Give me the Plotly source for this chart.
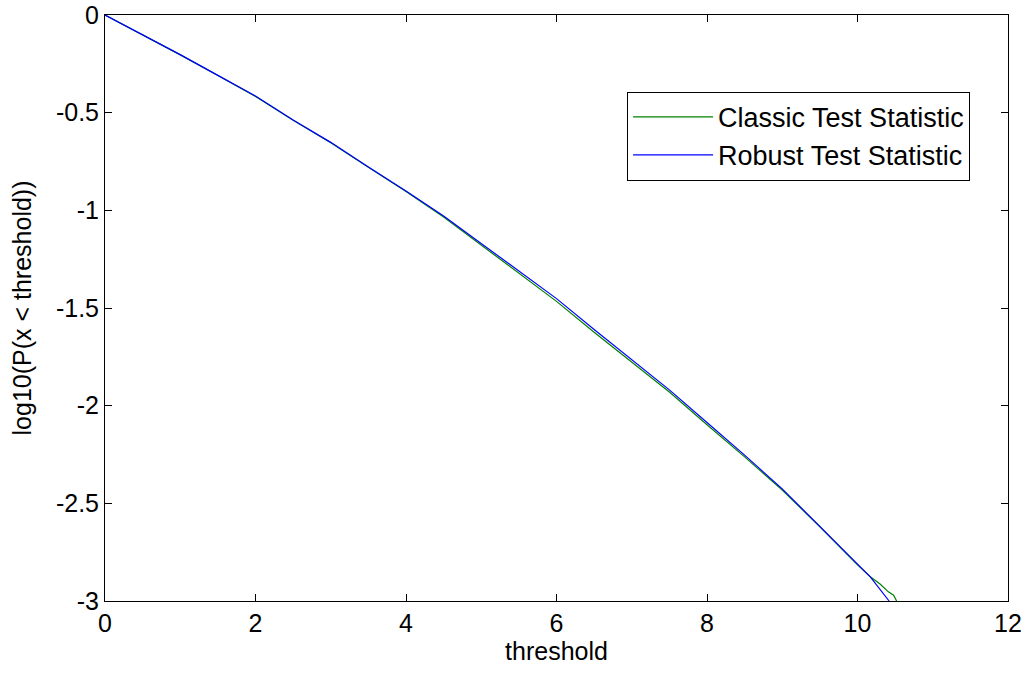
import plotly.graph_objects as go

# Classic test statistic
classic_x = [0, 0.5, 1.0, 1.5, 2.0, 2.5, 3.0, 3.5, 4.0, 4.5, 5.0, 5.5, 6.0, 6.5, 7.0,
             7.5, 8.0, 8.5, 9.0, 9.5, 10.0, 10.17, 10.30, 10.41, 10.48, 10.52]
classic_y = [0, -0.101, -0.204, -0.310, -0.417, -0.539, -0.654, -0.780, -0.904, -1.034,
             -1.178, -1.322, -1.466, -1.624, -1.778, -1.930, -2.098, -2.262, -2.432,
             -2.620, -2.815, -2.876, -2.913, -2.953, -2.970, -3.0]

# Robust test statistic
robust_x = [0, 0.5, 1.0, 1.5, 2.0, 2.5, 3.0, 3.5, 4.0, 4.5, 5.0, 5.5, 6.0, 6.5, 7.0,
            7.5, 8.0, 8.5, 9.0, 9.5, 10.0, 10.17, 10.42]
robust_y = [0, -0.101, -0.203, -0.309, -0.415, -0.538, -0.652, -0.778, -0.901, -1.029,
            -1.170, -1.310, -1.452, -1.610, -1.763, -1.919, -2.086, -2.253, -2.426,
            -2.617, -2.813, -2.876, -3.0]

x_ticks = [0, 2, 4, 6, 8, 10, 12]
y_ticks = [0, -0.5, -1, -1.5, -2, -2.5, -3]
y_tick_labels = ["0", "-0.5", "-1", "-1.5", "-2", "-2.5", "-3"]

FAM = "Liberation Sans, Arial, sans-serif"
font = dict(family=FAM, size=25, color="black")

fig = go.Figure()
fig.add_trace(go.Scatter(x=classic_x, y=classic_y, mode="lines",
                         name="Classic Test Statistic", legendgroup="a",
                         line=dict(color="#008000", width=1.2)))
fig.add_trace(go.Scatter(x=robust_x, y=robust_y, mode="lines",
                         name="Robust Test Statistic", legendgroup="b",
                         line=dict(color="#0000ff", width=1.2)))

axis_common = dict(showgrid=False, zeroline=False, showline=True, linecolor="black",
                   linewidth=1, mirror="ticks", ticks="inside", ticklen=7,
                   tickcolor="black", tickfont=font, title_font=font)

fig.update_xaxes(range=[0, 12], tickvals=x_ticks, title_text="threshold",
                 title_standoff=5, automargin="bottom", **axis_common)
fig.update_yaxes(range=[-3, 0], tickvals=y_ticks, ticktext=y_tick_labels,
                 title_text="log10(P(x < threshold))", title_standoff=17,
                 automargin="left", **axis_common)

fig.update_layout(
    width=1025, height=673,
    margin=dict(l=105, r=17, t=15, b=72),
    plot_bgcolor="white", paper_bgcolor="white",
    font=font,
    legend=dict(x=0.958, y=0.869, xanchor="right", yanchor="top",
                bordercolor="black", borderwidth=1, bgcolor="white",
                font=dict(family=FAM, size=27, color="black"),
                itemwidth=80,
                tracegroupgap=0, traceorder="grouped"),
    showlegend=True,
)

fig.write_html("out.html")
